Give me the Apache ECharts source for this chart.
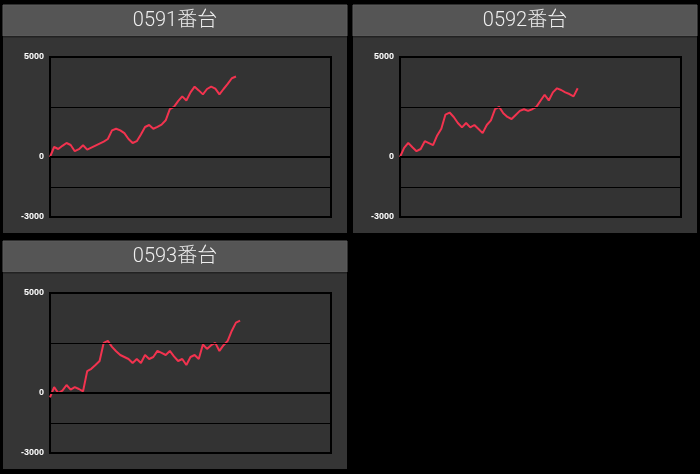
<!DOCTYPE html>
<html>
<head>
<meta charset="utf-8">
<script src="https://cdn.jsdelivr.net/npm/echarts@6/dist/echarts.min.js"></script>
<style>
  html, body { margin: 0; padding: 0; background: #000; }
  #chart { width: 700px; height: 474px; }
</style>
</head>
<body>
<div id="chart"></div>
<script>
// machine names and cumulative balance per game
const titles = ['0591番台', '0592番台', '0593番台'];
const xMax = 68;
const yTicks = [5000, 0, -3000];
const gridLines = [2500, -1500];

const values0591 = [0, 500, 400, 560, 700, 600, 290, 390, 590, 370, 470, 570, 670, 770, 900,
  1330, 1414, 1330, 1190, 900, 700, 790, 1130, 1500, 1600, 1414, 1510, 1616, 1835, 2390,
  2508, 2795, 3030, 2828, 3232, 3518, 3330, 3131, 3400, 3518, 3420, 3131, 3400, 3653, 3939, 4023];
const values0592 = [0, 455, 707, 490, 290, 400, 790, 690, 590, 1077, 1414, 2121, 2222, 2003,
  1700, 1481, 1700, 1481, 1600, 1400, 1195, 1600, 1835, 2390, 2508, 2190, 2003, 1900, 2104,
  2306, 2390, 2306, 2390, 2508, 2811, 3114, 2828, 3232, 3434, 3350, 3232, 3148, 3030, 3434];
const values0593 = [-220, 290, 0, 120, 400, 170, 290, 200, 85, 1094, 1212, 1400, 1600, 2508,
  2609, 2306, 2088, 1900, 1800, 1700, 1500, 1700, 1500, 1900, 1700, 1800, 2104, 2003, 1900,
  2104, 1835, 1600, 1700, 1400, 1800, 1900, 1700, 2424, 2205, 2390, 2508, 2104, 2390, 2609,
  3114, 3518, 3620];

const allValues = [values0591, values0592, values0593];
const offsets = [[0, 0], [350, 0], [0, 236]];

const chart = echarts.init(document.getElementById('chart'));

const graphic = [];
const grid = [], xAxis = [], yAxis = [], series = [];

offsets.forEach(([dx, dy], k) => {
  // panel frame
  graphic.push({ type: 'rect', silent: true, z: -10,
    shape: { x: 3 + dx, y: 5 + dy, width: 344, height: 228 },
    style: { fill: '#353535' } });
  graphic.push({ type: 'rect', silent: true, z: -9,
    shape: { x: 3 + dx, y: 5 + dy, width: 344, height: 31 },
    style: { fill: '#555555', stroke: '#5e5e5e', lineWidth: 1 } });
  graphic.push({ type: 'rect', silent: true, z: -9,
    shape: { x: 3 + dx, y: 36 + dy, width: 344, height: 1.5 },
    style: { fill: '#222222' } });
  graphic.push({ type: 'text', silent: true, z: -8,
    x: 175 + dx, y: 21 + dy,
    style: { text: titles[k], fill: '#eeeeee',
      font: '300 20px Roboto, "Noto Sans CJK JP", sans-serif',
      align: 'center', verticalAlign: 'middle' } });

  grid.push({ left: 50 + dx, top: 57 + dy, width: 281, height: 160,
    show: true, backgroundColor: '#333333', borderColor: '#000', borderWidth: 2 });
  xAxis.push({ gridIndex: k, type: 'value', min: 0, max: xMax, show: false });
  yAxis.push({ gridIndex: k, type: 'value', min: -3000, max: 5000, interval: 500,
    axisLine: { show: false }, axisTick: { show: false }, splitLine: { show: false },
    axisLabel: {
      margin: 6, color: '#ffffff', fontSize: 9, fontWeight: 'bold',
      fontFamily: 'Liberation Sans, Arial, sans-serif',
      formatter: (v) => (yTicks.indexOf(v) >= 0 ? String(v) : ''),
    } });
  series.push({
    type: 'line', xAxisIndex: k, yAxisIndex: k,
    data: allValues[k].map((v, i) => [i, v]),
    symbol: 'none', animation: false,
    lineStyle: { color: '#f2334f', width: 2 },
    markLine: {
      silent: true, symbol: 'none', animation: false,
      label: { show: false },
      data: [
        ...gridLines.map((g) => ({ yAxis: g, lineStyle: { color: '#000', width: 1, type: 'solid' } })),
        { yAxis: 0, lineStyle: { color: '#000', width: 2, type: 'solid' } },
      ],
    },
  });
});

chart.setOption({
  backgroundColor: '#000',
  animation: false,
  graphic,
  grid, xAxis, yAxis, series,
});
</script>
</body>
</html>
